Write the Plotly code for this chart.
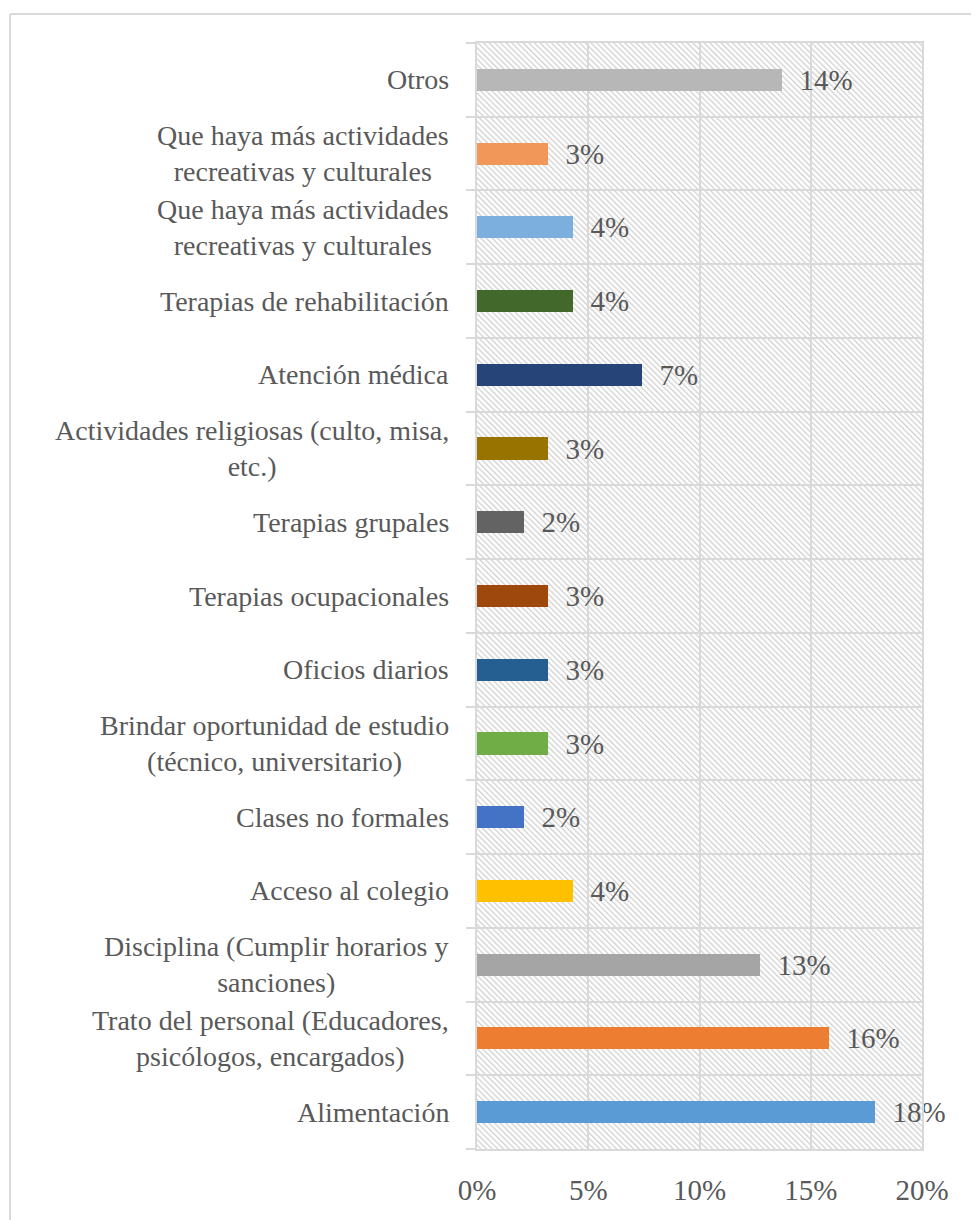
import base64

import plotly.graph_objects as go

# bottom to top
categories = [
    "Alimentación",
    "Trato del personal (Educadores,<br>psicólogos, encargados)",
    "Disciplina (Cumplir horarios y<br>sanciones)",
    "Acceso al colegio",
    "Clases no formales",
    "Brindar oportunidad de estudio<br>(técnico, universitario)",
    "Oficios diarios",
    "Terapias ocupacionales",
    "Terapias grupales",
    "Actividades religiosas (culto, misa,<br>etc.)",
    "Atención médica",
    "Terapias de rehabilitación",
    "Que haya más actividades<br>recreativas y culturales",
    "Que haya más actividades<br>recreativas y culturales",
    "Otros",
]
values = [0.179, 0.158, 0.127, 0.043, 0.021, 0.032, 0.032, 0.032, 0.021, 0.032, 0.074, 0.043, 0.043, 0.032, 0.137]
colors = ["#5B9BD5", "#ED7D31", "#A5A5A5", "#FFC000", "#4472C4", "#70AD47", "#255E91", "#9E480E",
          "#636363", "#997300", "#264478", "#43682B", "#7CAFDD", "#F1975A", "#B7B7B7"]

# page has an 8px body margin, so the figure is a bit smaller than the window
W, H = 971, 1212
L, R, T, B = 469, 57, 35, 71
pw, ph = W - L - R, H - T - B
font = "Liberation Serif"
grey_txt = "#595959"
grid = "#d9d9d9"

pos = list(range(len(categories)))

fig = go.Figure()
fig.add_trace(go.Bar(
    x=values, y=pos, orientation="h", width=0.3,
    marker=dict(color=colors, line=dict(width=0)),
    texttemplate="\u00a0\u00a0%{x:.0%}", textposition="outside", constraintext="none",
    textfont=dict(family=font, size=29, color=grey_txt),
    cliponaxis=False, showlegend=False,
))

# category labels, centred lines like the original
for p, c in zip(pos, categories):
    fig.add_annotation(x=0, xref="paper", y=p, yref="y", text=c, showarrow=False,
                       xanchor="right", yanchor="middle", align="center", xshift=-26,
                       font=dict(family=font, size=28, color=grey_txt))

# hatched plot background
svg = (f'<svg xmlns="http://www.w3.org/2000/svg" width="{pw}" height="{ph}" viewBox="0 0 {pw} {ph}">'
       '<defs><pattern id="h" width="4" height="4" patternUnits="userSpaceOnUse" patternTransform="rotate(-45)">'
       '<rect width="1.3" height="4" fill="#d0d0d0"/></pattern></defs>'
       f'<rect width="{pw}" height="{ph}" fill="url(#h)"/></svg>')
src = "data:image/svg+xml;base64," + base64.b64encode(svg.encode()).decode()
fig.add_layout_image(source=src, xref="paper", yref="paper", x=0, y=1, sizex=1, sizey=1,
                     xanchor="left", yanchor="top", sizing="stretch", layer="below")

# chart border: only left and top edges show in the crop
bx0, by1 = (2 - L) / pw, (H - 6 - B) / ph
fig.add_shape(type="line", xref="paper", yref="paper", x0=bx0, x1=bx0, y0=-(B + 10) / ph, y1=by1,
              line=dict(color=grid, width=2), layer="below")
fig.add_shape(type="line", xref="paper", yref="paper", x0=bx0, x1=(W + 10 - L) / pw, y0=by1, y1=by1,
              line=dict(color=grid, width=2), layer="below")

fig.update_xaxes(range=[0, 0.2], dtick=0.05, tickformat=".0%", showgrid=True, gridcolor=grid, gridwidth=2,
                 zeroline=False, showline=True, mirror=True, linecolor=grid, linewidth=2,
                 ticks="outside", ticklen=14, tickcolor="rgba(0,0,0,0)",
                 tickfont=dict(family=font, size=29, color=grey_txt))
fig.update_yaxes(range=[-0.5, len(categories) - 0.5], tickvals=[i - 0.5 for i in range(len(categories) + 1)],
                 showticklabels=False, showgrid=True, gridcolor=grid, gridwidth=2, zeroline=False,
                 showline=True, mirror=True, linecolor=grid, linewidth=2,
                 ticks="outside", ticklen=9, tickcolor=grid, tickwidth=2)

fig.update_layout(width=W, height=H, margin=dict(l=L, r=R, t=T, b=B),
                  paper_bgcolor="white", plot_bgcolor="rgba(0,0,0,0)", bargap=0)

fig.write_html("out.html")
